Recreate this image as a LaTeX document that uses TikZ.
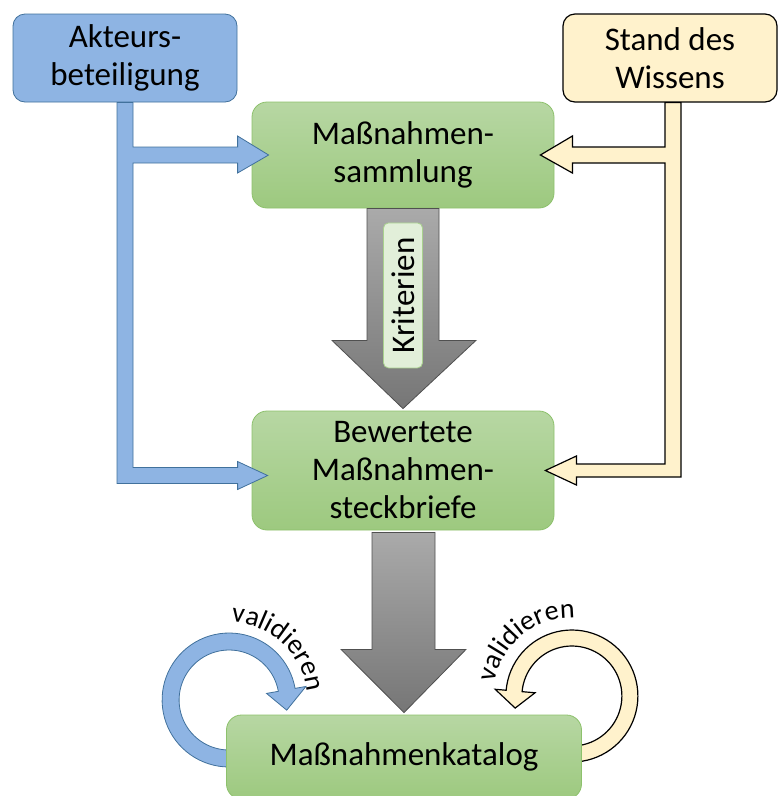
\documentclass[tikz,border=0pt]{standalone}
\usepackage{fontspec}
\setmainfont{Carlito}
\usetikzlibrary{positioning,calc,backgrounds,decorations.text}
\definecolor{akteurblue}{RGB}{142,180,227}
\definecolor{akteurline}{RGB}{65,113,156}
\definecolor{wissenyellow}{RGB}{255,242,204}
\definecolor{massgreentop}{RGB}{183,215,163}
\definecolor{massgreenbot}{RGB}{157,201,127}
\definecolor{massgreenline}{RGB}{141,193,108}
\definecolor{kritfill}{RGB}{226,239,217}
\definecolor{kritline}{RGB}{169,209,142}
\definecolor{graytop}{RGB}{170,170,170}
\definecolor{graybot}{RGB}{118,118,118}
\definecolor{grayline}{RGB}{80,80,80}
\newcommand\boxfont{\fontsize{33}{38}\selectfont}
\newcommand\ringfont{\fontsize{28}{32}\selectfont}
\tikzset{
  akteurbox/.style={rectangle, rounded corners=12pt, draw=akteurline, line width=0.8pt,
    fill=akteurblue, minimum width=224pt, minimum height=88pt, inner sep=0pt,
    align=center, font=\boxfont},
  wissenbox/.style={rectangle, rounded corners=12pt, draw=black, line width=1.2pt,
    fill=wissenyellow, minimum width=214pt, minimum height=88pt, inner sep=0pt,
    align=center, font=\boxfont},
  massbox/.style={rectangle, rounded corners=15pt, draw=massgreenline, line width=0.8pt,
    top color=massgreentop, bottom color=massgreenbot, minimum width=302pt,
    inner sep=0pt, align=center, font=\boxfont},
  kritbox/.style={rectangle, rounded corners=5pt, draw=kritline, line width=0.8pt,
    fill=kritfill, minimum width=145pt, minimum height=39pt, inner sep=0pt,
    font=\boxfont},
  grayarrow/.style={draw=grayline, line width=0.8pt, top color=graytop, bottom color=graybot},
  akteurarrow/.style={draw=akteurline, line width=0.8pt, fill=akteurblue, line join=miter},
  wissenarrow/.style={draw=black, line width=1.2pt, fill=wissenyellow, line join=miter},
  ringtext/.style={decorate, decoration={text along path, text align=center,
    text={|\ringfont|validieren}}}
}
\begin{document}
\begin{tikzpicture}[x=1pt, y=-1pt]
  \useasboundingbox (0,0) rectangle (778,796);

  % --- sources ---
  \node[akteurbox] (akteure) at (125,58) {Akteurs-\\beteiligung};
  \node[wissenbox] (wissen) at (670,58) {Stand des\\Wissens};

  % --- main chain ---
  \node[massbox, minimum height=106pt] (sammlung) at (403,155) {Maßnahmen-\\sammlung};
  \node[massbox, minimum height=119pt] (steckbriefe) at (403,470.5)
       {Bewertete\\Maßnahmen-\\steckbriefe};
  \node[massbox, minimum width=355pt, minimum height=84pt] (katalog) at (404,757)
       {Maßnahmenkatalog};

  % --- block arrows down ---
  \draw[grayarrow] ($(sammlung.south)+(-36,0)$) -- ($(sammlung.south)+(-36,132)$)
        -- ($(sammlung.south)+(-71,132)$) -- ($(steckbriefe.north)+(0,-2)$)
        -- ($(sammlung.south)+(73,132)$) -- ($(sammlung.south)+(36,132)$)
        -- ($(sammlung.south)+(36,0)$) -- cycle;
  \draw[grayarrow] ($(steckbriefe.south)+(-31,2)$) -- ($(steckbriefe.south)+(-31,119)$)
        -- ($(steckbriefe.south)+(-62,119)$) -- ($(katalog.north)+(0,-2)$)
        -- ($(steckbriefe.south)+(63,119)$) -- ($(steckbriefe.south)+(32,119)$)
        -- ($(steckbriefe.south)+(32,2)$) -- cycle;
  \node[kritbox, rotate=90] (kriterien) at ($(sammlung.south)+(0,87)$) {Kriterien};

  % --- feeds from Akteursbeteiligung ---
  \coordinate (bA) at (akteure.south);
  \coordinate (bT1) at ($(sammlung.west)+(17,0)$);
  \coordinate (bT2) at ($(steckbriefe.west)+(16,5)$);
  \draw[akteurarrow] ($(bA)+(-8,0)$) -- ($(bA)+(8,0)$)
        -- ($(bA |- bT1)+(8,-8)$) -- ($(bT1)+(-31,-8)$) -- ($(bT1)+(-31,-19)$)
        -- (bT1) -- ($(bT1)+(-31,18)$) -- ($(bT1)+(-31,8)$) -- ($(bA |- bT1)+(8,8)$)
        -- ($(bA |- bT2)+(8,-8)$) -- ($(bT2)+(-30,-8)$) -- ($(bT2)+(-30,-14)$)
        -- (bT2) -- ($(bT2)+(-30,14)$) -- ($(bT2)+(-30,8)$) -- ($(bA |- bT2)+(-8,8)$)
        -- cycle;

  % --- feeds from Stand des Wissens ---
  \coordinate (yA) at ($(wissen.south)+(3,0)$);
  \coordinate (yT1) at ($(sammlung.east)+(-14,0)$);
  \coordinate (yT2) at ($(steckbriefe.east)+(-9,0)$);
  \draw[wissenarrow] ($(yA)+(-8,0)$) -- ($(yA)+(8,0)$)
        -- ($(yA |- yT2)+(8,6.5)$) -- ($(yT2)+(31,6.5)$) -- ($(yT2)+(31,14.5)$)
        -- (yT2) -- ($(yT2)+(31,-14.5)$) -- ($(yT2)+(31,-6.5)$) -- ($(yA |- yT2)+(-8,-6.5)$)
        -- ($(yA |- yT1)+(-8,8)$) -- ($(yT1)+(32,8)$) -- ($(yT1)+(32,18)$)
        -- (yT1) -- ($(yT1)+(32,-19)$) -- ($(yT1)+(32,-8)$) -- ($(yA |- yT1)+(-8,-8)$)
        -- cycle;

  % --- validation loops ---
  \coordinate (bc) at ($(katalog.west)+(3,-57)$);
  \coordinate (yc) at ($(katalog.east)+(-10,-61)$);
  \begin{scope}[on background layer]
    \begin{scope}[shift={(bc)}]
      \draw[akteurarrow] plot[domain=90:350, samples=60] (\x:67) -- (350:78) -- (10:58.5)
            -- (350:38) -- (350:50) -- plot[domain=350:90, samples=60] (\x:50) -- cycle;
    \end{scope}
    \begin{scope}[shift={(yc)}]
      \draw[wissenarrow] plot[domain=90:-175, samples=60] (\x:66) -- (-175:77) -- (-192:58)
            -- (-175:37) -- (-175:50) -- plot[domain=-175:90, samples=60] (\x:50) -- cycle;
    \end{scope}
  \end{scope}
  \begin{scope}[shift={(bc)}, y=1pt]
    \path[ringtext] (100:78) arc[start angle=100, end angle=-6, radius=78];
  \end{scope}
  \begin{scope}[shift={(yc)}, y=1pt]
    \path[ringtext] (182:78) arc[start angle=182, end angle=76, radius=78];
  \end{scope}

\end{tikzpicture}
\end{document}
